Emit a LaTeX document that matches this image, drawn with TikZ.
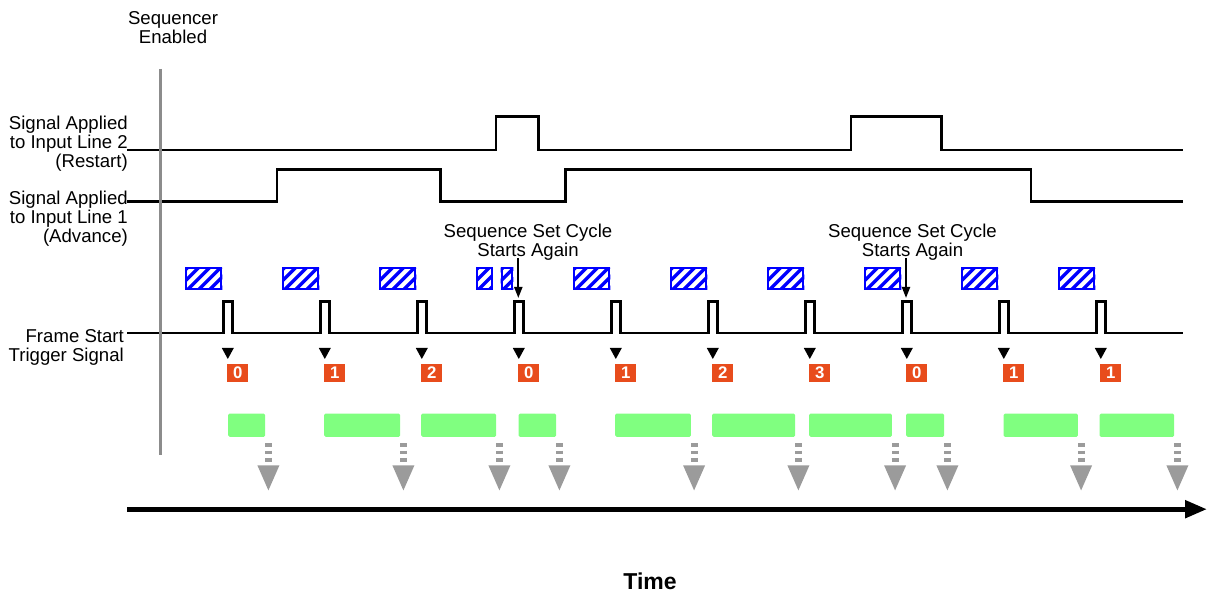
\documentclass[tikz,border=0pt]{standalone}
\usepackage{fontspec}
\setmainfont{Liberation Sans}
\usetikzlibrary{arrows.meta}
\definecolor{seqorange}{RGB}{232,76,28}
\definecolor{seqgreen}{RGB}{128,255,128}
\definecolor{seqgray}{RGB}{155,155,155}
\definecolor{axgray}{RGB}{140,140,140}
\newcommand\hatchbox[2]{%
  \begin{scope}
    \clip (#1,267.3) rectangle (#2,290);
    \foreach \k in {-2,...,4} \draw[blue, line width=3.4pt] ({#1+2+\k*11},290) -- ++(23,-23);
  \end{scope}
  \draw[blue, line width=2pt] ({#1+1},268.3) rectangle ({#2-1},289);
}
\begin{document}
\begin{tikzpicture}[x=1pt,y=-1pt,
  sig/.style={line width=2.6pt, line join=miter, line cap=butt},
  lbl/.style={font=\fontsize{18.6}{19}\selectfont, inner sep=0pt, align=right},
  numbox/.style={fill=seqorange, text=white, font=\bfseries\fontsize{16.8}{17}\selectfont,
                 minimum width=21pt, minimum height=18pt, inner sep=0pt},
  gbox/.style={fill=seqgreen, minimum height=23.4pt, inner sep=0pt, rounded corners=1.5pt, anchor=north west},
  ssarrow/.style={line width=2pt, -{Triangle[length=11pt,width=8pt]}}]
\useasboundingbox (0,0) rectangle (1207,593);

% labels
\node[lbl, align=center, anchor=north] (se) at (173,11.7) {Sequencer\\Enabled};
\node[lbl, anchor=north east] (l2) at (128,115.5) {Signal Applied\\to Input Line 2\\(Restart)};
\node[lbl, anchor=north east] (l1) at (128,190.5) {Signal Applied\\to Input Line 1\\(Advance)};
\node[lbl, anchor=north east] (lf) at (124,329) {Frame Start\\Trigger Signal};

% input line 2
\draw[sig] (127,150) -- (495.8,150) -- (495.8,116.7) -- (538.3,116.7) -- (538.3,150)
  -- (850.8,150) -- (850.8,116.7) -- (941.3,116.7) -- (941.3,150) -- (1183,150);
% input line 1
\draw[sig] (127,201.3) -- (277,201.3) -- (277,169.3) -- (440.7,169.3) -- (440.7,201.3)
  -- (565.5,201.3) -- (565.5,169.3) -- (1030.8,169.3) -- (1030.8,201.3) -- (1183,201.3);
% frame start trigger
\draw[sig] (127,333) \foreach \i in {0,...,9} {
    -- ({227.8+97*\i-4.5},333) -- ({227.8+97*\i-4.5},301.7)
    -- ({227.8+97*\i+4.5},301.7) -- ({227.8+97*\i+4.5},333) } -- (1183,333);

% hatched blue boxes
\foreach \i in {0,1,2,4,5,6,7,8,9} {
  \pgfmathsetmacro\c{227.8+97*\i}
  \hatchbox{\c-42.5}{\c-5.5}
}
\hatchbox{476}{492.7}
\hatchbox{500.7}{513.3}

% triangles and numbers
\foreach \i/\d in {0/0,1/1,2/2,3/0,4/1,5/2,6/3,7/0,8/1,9/1} {
  \pgfmathsetmacro\c{227.8+97*\i}
  \fill ({\c-6},348) -- ({\c+6},348) -- (\c,359) -- cycle;
  \node[numbox] (n\i) at ({\c+10},373) {\d};
}

% green boxes and grey arrows
\foreach \i/\s/\e in {0/228/265,1/324/400,2/421/496,3/518.3/556,4/615/690.7,
                      5/712/795,6/809/891.7,7/906/944,8/1003.3/1077.7,9/1099.3/1174} {
  \node[gbox, minimum width={(\e-\s)*1pt}] (g\i) at (\s,413.3) {};
  \coordinate (a\i) at ([xshift=3pt]g\i.south east);
  \draw[seqgray, line width=7pt, dash pattern=on 3.6pt off 3.8pt]
    ([yshift=-6pt]a\i) -- ([yshift=-25.5pt]a\i);
  \fill[seqgray] ([xshift=-11pt,yshift=-28.3pt]a\i) -- ([xshift=11pt,yshift=-28.3pt]a\i)
    -- ([yshift=-53.3pt]a\i) -- cycle;
}

% sequencer enabled line
\draw[axgray, line width=3.3pt] (160.3,69) -- (160.3,455);

% sequence set cycle notes
\node[lbl, align=center, anchor=north] (ss1) at (528,224) {Sequence Set Cycle\\Starts Again};
\node[lbl, align=center, anchor=north] (ss2) at (912.5,224) {Sequence Set Cycle\\Starts Again};
\coordinate (s1a) at (518.3,258);
\coordinate (s1b) at (518.3,298);
\coordinate (s2a) at (906,258);
\coordinate (s2b) at (906,298);
\draw[ssarrow] (s1a) -- (s1b);
\draw[ssarrow] (s2a) -- (s2b);

% time axis
\coordinate (t0) at (127,509.2);
\coordinate (t1) at (1207,509.2);
\draw[line width=5pt, -{Triangle[length=22pt,width=17pt]}] (t0) -- (t1);
\node[font=\bfseries\fontsize{23}{24}\selectfont, anchor=north, inner sep=0pt] (time) at (650,572.7) {Time};
\end{tikzpicture}
\end{document}
